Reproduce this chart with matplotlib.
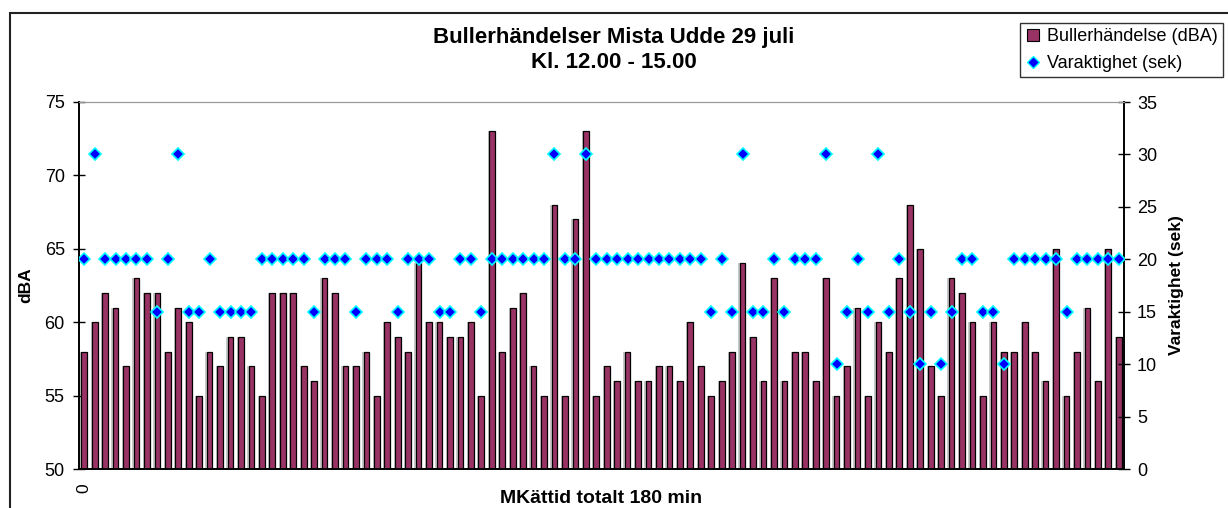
import numpy as np
import matplotlib
matplotlib.use("Agg")
import matplotlib.pyplot as plt
from matplotlib.lines import Line2D
from matplotlib.patches import Rectangle

plt.rcParams['font.family'] = ['Liberation Sans', 'DejaVu Sans']

# noise events (dBA), one per event
dba = [58, 60, 62, 61, 57, 63, 62, 62, 58, 61,
       60, 55, 58, 57, 59, 59, 57, 55, 62, 62,
       62, 57, 56, 63, 62, 57, 57, 58, 55, 60,
       59, 58, 64, 60, 60, 59, 59, 60, 55, 73,
       58, 61, 62, 57, 55, 68, 55, 67, 73, 55,
       57, 56, 58, 56, 56, 57, 57, 56, 60, 57,
       55, 56, 58, 64, 59, 56, 63, 56, 58, 58,
       56, 63, 55, 57, 61, 55, 60, 58, 63, 68,
       65, 57, 55, 63, 62, 60, 55, 60, 58, 58,
       60, 58, 56, 65, 55, 58, 61, 56, 65, 59]

# duration (sek)
dur = [20, 30, 20, 20, 20, 20, 20, 15, 20, 30,
       15, 15, 20, 15, 15, 15, 15, 20, 20, 20,
       20, 20, 15, 20, 20, 20, 15, 20, 20, 20,
       15, 20, 20, 20, 15, 15, 20, 20, 15, 20,
       20, 20, 20, 20, 20, 30, 20, 20, 30, 20,
       20, 20, 20, 20, 20, 20, 20, 20, 20, 20,
       15, 20, 15, 30, 15, 15, 20, 15, 20, 20,
       20, 30, 10, 15, 20, 15, 30, 15, 20, 15,
       10, 15, 10, 15, 20, 20, 15, 15, 10, 20,
       20, 20, 20, 20, 15, 20, 20, 20, 20, 20]

x_labels = ["0"]

bar_col = '#993366'
x = np.arange(len(dba))

fig = plt.figure(figsize=(12.28, 5.08), dpi=100)
ax = fig.add_axes([79/1228, 1-469/508, (1124-79)/1228, (469-102)/508])

# light shadow to the left of each bar
ax.bar(x - 0.12, dba, width=0.55, color='#c8c8c8', zorder=1)
ax.bar(x, dba, width=0.55, color=bar_col, edgecolor='black', linewidth=0.9, zorder=2)
ax.set_ylim(50, 75)
ax.set_xlim(-0.5, len(dba) - 0.5)
ax.set_yticks(range(50, 76, 5))
ax.set_xticks([0])
ax.set_xticklabels(x_labels, rotation=90, fontsize=12.5)
ax.tick_params(axis='x', length=0, pad=10)
ax.tick_params(axis='y', direction='inout', length=8.5, width=1, labelsize=13, pad=6)

ax2 = ax.twinx()
ax2.plot(x, dur, linestyle='none', marker='D', ms=6.5, mfc='#0000ff',
         mec='#00ffff', mew=1.2, zorder=3)
ax2.set_ylim(0, 35)
ax2.set_yticks(range(0, 36, 5))
ax2.tick_params(axis='y', direction='inout', length=8.5, width=1, labelsize=13, pad=5)

for a in (ax, ax2):
    a.spines['top'].set_color('#999999')
    a.spines['left'].set_linewidth(1.2)
    a.spines['right'].set_linewidth(1.2)
    a.spines['bottom'].set_linewidth(1.2)

ax.set_ylabel('dBA', fontsize=12.5, fontweight='bold', labelpad=8)
ax2.set_ylabel('Varaktighet (sek)', fontsize=12.5, fontweight='bold', labelpad=9)
ax.set_xlabel('MKättid totalt 180 min', fontsize=14, fontweight='bold', labelpad=-2)

fig.text(0.5, 1-38/508, 'Bullerhändelser Mista Udde 29 juli', ha='center', va='center',
         fontsize=16, fontweight='bold')
fig.text(0.5, 1-62/508, 'Kl. 12.00 - 15.00', ha='center', va='center',
         fontsize=16, fontweight='bold')

handles = [Line2D([], [], linestyle='none', marker='s', ms=8, mfc=bar_col, mec='black', mew=0.8),
           Line2D([], [], linestyle='none', marker='D', ms=6, mfc='#0000ff', mec='#00ffff', mew=1)]
leg = fig.legend(handles, ['Bullerhändelse (dBA)', 'Varaktighet (sek)'],
                 loc='upper right', bbox_to_anchor=(1223/1228, 1-23/508),
                 fontsize=13, frameon=True, fancybox=False, handlelength=0.8,
                 handletextpad=0.4, labelspacing=0.55, borderpad=0.28, borderaxespad=0)
leg.get_frame().set_edgecolor('black')
leg.get_frame().set_linewidth(1)

# outer chart frame (cut off at right and bottom)
fig.add_artist(Rectangle((10/1228, -0.05), 1.1, 1.05 - 13/508, transform=fig.transFigure,
                         fill=False, edgecolor='#222222', linewidth=1.5, clip_on=False))

fig.savefig('out.png', dpi=100)
